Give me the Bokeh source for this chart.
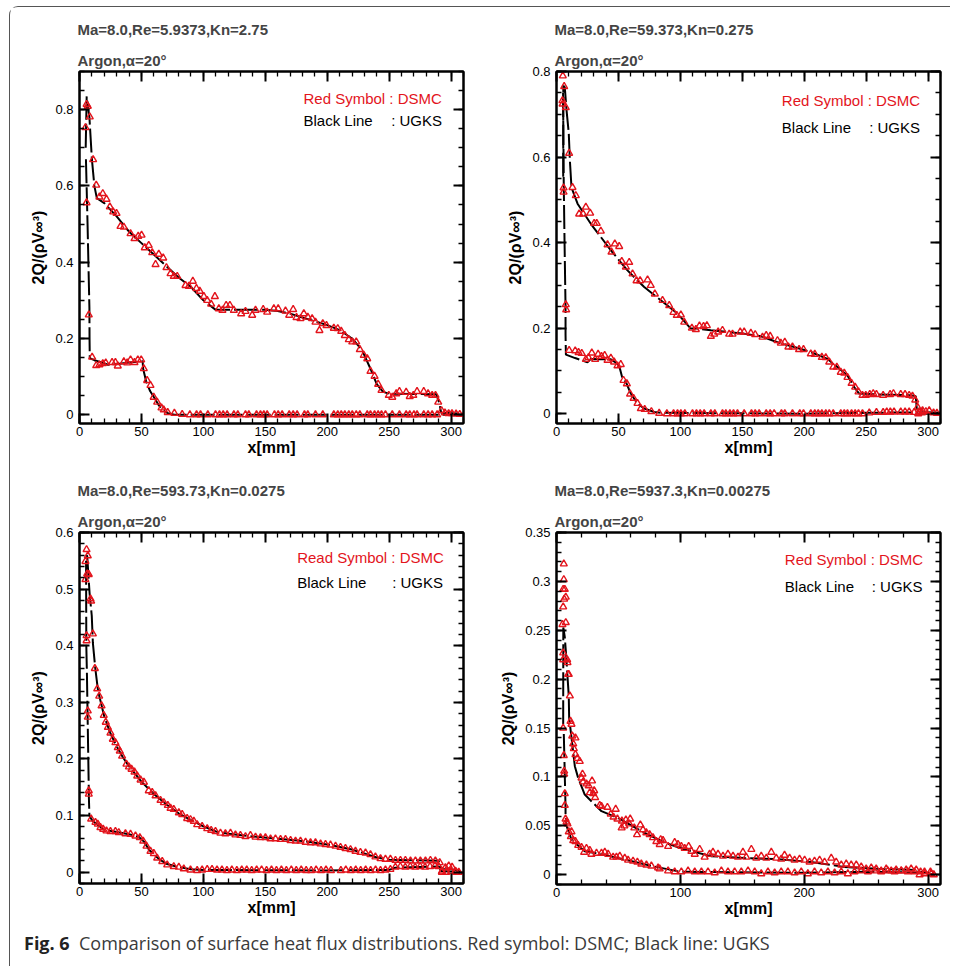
from bokeh.plotting import figure
from bokeh.models import (Range1d, LinearAxis, SingleIntervalTicker, CustomJSTickFormatter,
                          Title, Label, Div, InlineStyleSheet)
from bokeh.layouts import column, row
from bokeh.embed import file_html
from bokeh.resources import INLINE

FONT = "Liberation Sans"
RED = "#e3141c"

# ---------------- data (x in mm, y = 2Q/(rho V^3)) ----------------
titles = [
    ("Ma=8.0,Re=5.9373,Kn=2.75", "Red Symbol : DSMC"),
    ("Ma=8.0,Re=59.373,Kn=0.275", "Red Symbol : DSMC"),
    ("Ma=8.0,Re=593.73,Kn=0.0275", "Read Symbol : DSMC"),
    ("Ma=8.0,Re=5937.3,Kn=0.00275", "Red Symbol : DSMC"),
]
subtitle = "Argon,α=20°"

p1_dsmc_upper = [(4.8,0.753),(5.7,0.814),(6.7,0.809),(8.3,0.781),(11.0,0.669),(13.5,0.602),(16.1,0.571),(18.8,0.580),
    (21.8,0.565),(24.5,0.545),(27.2,0.532),(29.9,0.528),(33.1,0.494),(35.8,0.492),(41.2,0.475),(44.4,0.462),(47.4,0.468),
    (50.1,0.471),(52.7,0.438),(55.9,0.444),(58.7,0.425),(61.4,0.394),(64.0,0.421),(67.6,0.411),(70.2,0.386),(73.5,0.370),
    (76.1,0.363),(78.9,0.363),(85.6,0.339),(88.3,0.337),(91.5,0.350),(94.4,0.331),(97.1,0.324),(100.4,0.310),(103.1,0.300),
    (106.3,0.290),(109.3,0.310),(112.5,0.278),(115.4,0.274),(118.4,0.287),(121.4,0.287),(124.6,0.274),(130.5,0.265),
    (134.0,0.271),(139.4,0.261),(142.1,0.274),(148.3,0.276),(151.5,0.269),(156.9,0.278),(160.4,0.278),(166.3,0.272),
    (169.3,0.261),(172.5,0.276),(175.2,0.255),(178.4,0.252),(181.1,0.265),(184.3,0.256),(187.8,0.252),(190.5,0.243),
    (193.7,0.221),(196.4,0.239),(199.4,0.234),(205.3,0.227),(208.5,0.226),(211.3,0.219),(214.2,0.208),(217.4,0.197),
    (220.2,0.191),(223.4,0.191),(226.3,0.171),(229.5,0.156),(232.3,0.147),(234.9,0.114),(238.2,0.101),(241.1,0.080),
    (243.8,0.064),(249.7,0.051),(252.5,0.046),(255.7,0.055),(258.3,0.061),(263.7,0.059),(266.6,0.048),(269.5,0.051),
    (272.5,0.061),(277.9,0.061),(281.4,0.055),(284.7,0.051),(287.4,0.051),(289.6,0.033),(292.3,0.011),(295.0,0.005),
    (298.0,0.003),(300.7,0.003),(304.0,0.002),(307.0,0.001)]
p1_dsmc_lower = [(5.7,0.556),(7.5,0.262),(10.2,0.151),(13.5,0.129),(16.1,0.131),(18.8,0.134),(21.2,0.136),(26.3,0.137),
    (29.0,0.137),(30.9,0.128),(35.8,0.139),(38.5,0.136),(41.2,0.144),(44.4,0.137),(47.1,0.144),(49.8,0.144),(51.9,0.121),
    (54.6,0.090),(57.3,0.077),(59.9,0.046),(62.7,0.033),(66.2,0.018),(68.0,0.013),(71.2,0.006),(76.6,0.004),(82.9,0.001),
    (89.1,0.0),(94.5,0.0),(97.7,0.0),(103.6,0.0),(109.8,0.0),(113.0,0.0),(116.0,0.0),(119.2,0.0),(124.6,0.0),(127.8,0.0),
    (134.0,0.0),(136.7,0.0),(142.9,0.0),(146.1,0.0),(148.8,0.0),(151.5,0.0),(157.4,0.0),(160.4,0.0),(163.6,0.0),(169.3,0.0),
    (172.5,0.0),(175.7,0.0),(181.6,0.0),(184.3,0.0),(190.5,0.0),(196.4,0.0),(205.3,0.0),(208.5,0.0),(211.3,0.0),(214.2,0.0),
    (217.4,0.0),(220.2,0.0),(223.4,0.0),(226.3,0.0),(232.3,0.0),(234.9,0.0),(238.2,0.0),(241.1,0.0),(243.8,0.0),(247.0,0.0),
    (252.5,0.0),(258.3,0.0),(263.7,0.0),(266.6,0.0),(270.0,0.0),(272.5,0.0),(277.9,0.0),(281.4,0.0),(284.7,0.0),(288.7,0.0)]
p1_ugks_upper = [(5.0,0.70),(5.8,0.835),(8.0,0.78),(10.0,0.67),(12.0,0.60),(14.0,0.568),(20.0,0.555),(30.0,0.52),
    (40.0,0.48),(50.0,0.45),(60.0,0.42),(70.0,0.39),(80.0,0.36),(90.0,0.335),(100.0,0.30),(110.0,0.275),(120.0,0.275),
    (150.0,0.275),(160.0,0.272),(170.0,0.265),(180.0,0.255),(190.0,0.245),(200.0,0.235),(210.0,0.222),(220.0,0.20),
    (228.0,0.17),(235.0,0.12),(240.0,0.08),(245.0,0.06),(250.0,0.055),(288.0,0.054),(290.5,0.03),(292.0,0.005),(310.0,0.003)]
p1_ugks_lower = [(5.2,0.67),(6.5,0.50),(8.0,0.28),(8.1,0.20),(8.3,0.148),(12.0,0.143),(18.0,0.137),(23.0,0.131),
    (31.0,0.133),(40.0,0.137),(51.0,0.140),(51.3,0.122),(53.8,0.087),(57.0,0.062),(60.5,0.044),(64.0,0.025),(68.6,0.009),
    (72.0,0.003),(76.7,0.0),(310.0,0.0)]

p2_dsmc_upper = [(5.1,0.790),(4.8,0.732),(6.2,0.765),(7.5,0.716),(4.9,0.724),(10.2,0.609),(12.9,0.529),(15.6,0.510),
    (18.3,0.467),(21.5,0.467),(23.7,0.483),(27.2,0.469),(30.4,0.445),(32.5,0.445),(35.8,0.427),(41.2,0.395),(44.4,0.378),
    (47.1,0.397),(50.6,0.391),(52.7,0.356),(56.0,0.343),(58.7,0.354),(61.4,0.327),(64.6,0.311),(67.5,0.311),(73.5,0.313),
    (76.1,0.300),(79.4,0.280),(85.6,0.265),(91.0,0.253),(94.4,0.237),(97.1,0.230),(100.4,0.231),(103.1,0.214),(109.3,0.200),
    (112.5,0.197),(115.4,0.205),(118.7,0.204),(121.4,0.206),(124.6,0.181),(127.3,0.186),(130.5,0.191),(134.0,0.195),
    (139.4,0.186),(142.1,0.186),(148.3,0.191),(151.5,0.191),(156.9,0.188),(160.4,0.185),(166.3,0.179),(169.3,0.183),
    (172.5,0.181),(178.4,0.171),(181.1,0.165),(184.3,0.167),(187.2,0.156),(190.5,0.156),(195.8,0.150),(199.4,0.150),
    (205.3,0.140),(208.5,0.139),(214.2,0.132),(217.4,0.131),(220.2,0.121),(223.4,0.109),(226.3,0.109),(229.5,0.097),
    (232.3,0.095),(234.9,0.085),(238.2,0.071),(241.1,0.062),(243.8,0.051),(247.0,0.043),(249.7,0.043),(252.9,0.045),
    (255.7,0.047),(258.3,0.045),(263.7,0.043),(269.3,0.045),(272.0,0.047),(277.9,0.045),(281.4,0.045),(284.7,0.043),
    (287.4,0.041),(289.6,0.032),(291.5,0.015),(292.8,0.005),(295.5,0.007),(298.2,0.005),(300.9,0.007),(304.4,0.002),(307.1,0.001)]
p2_dsmc_lower = [(5.7,0.528),(5.7,0.518),(7.5,0.255),(7.8,0.243),(10.2,0.148),(15.1,0.147),(17.8,0.143),(20.4,0.141),
    (23.7,0.127),(25.8,0.131),(28.5,0.142),(31.2,0.127),(33.6,0.139),(36.3,0.134),(38.9,0.136),(41.2,0.125),(43.9,0.130),
    (46.5,0.121),(49.2,0.112),(51.9,0.115),(54.1,0.078),(56.8,0.070),(59.4,0.046),(62.2,0.036),(65.4,0.024),(68.1,0.012),
    (71.2,0.010),(76.6,0.005),(82.9,0.001),(89.1,0.0),(94.5,0.0),(97.7,0.0),(100.4,0.0),(103.6,0.0),(109.8,0.0),(113.0,0.0),
    (116.0,0.0),(119.2,0.0),(124.6,0.0),(127.8,0.0),(134.0,0.0),(136.7,0.0),(140.0,0.0),(142.9,0.0),(146.1,0.0),(151.5,0.0),
    (157.4,0.0),(160.4,0.0),(163.6,0.0),(169.3,0.0),(172.5,0.0),(175.7,0.0),(181.6,0.0),(184.3,0.0),(190.5,0.0),(196.4,0.0),
    (199.4,0.0),(205.3,0.0),(208.5,0.0),(211.3,0.0),(214.2,0.0),(217.4,0.0),(220.2,0.0),(223.4,0.0),(229.5,0.0),(232.3,0.0),
    (234.9,0.0),(238.2,0.0),(241.1,0.0),(243.8,0.0),(247.0,0.0),(252.5,0.002),(258.3,0.003),(263.7,0.003),(266.6,0.004),
    (269.5,0.004),(272.5,0.004),(277.9,0.004),(281.4,0.004),(284.7,0.004),(288.7,0.003),(292.0,0.0),(295.0,0.002)]
p2_ugks_upper = [(5.4,0.554),(5.5,0.767),(6.7,0.763),(8.1,0.71),(9.9,0.656),(10.8,0.592),(12.1,0.529),(17.0,0.491),
    (27.7,0.444),(43.9,0.382),(57.3,0.335),(70.8,0.296),(84.2,0.265),(97.7,0.234),(108.4,0.199),(113.8,0.199),(124.6,0.195),
    (138.0,0.191),(151.5,0.187),(165.0,0.181),(178.4,0.167),(191.9,0.156),(205.3,0.144),(218.8,0.128),(226.8,0.109),
    (234.9,0.089),(240.3,0.062),(244.3,0.047),(259.1,0.045),(286.0,0.043),(290.0,0.041),(291.0,0.006),(294.0,0.004),(310.0,0.002)]
p2_ugks_lower = [(5.3,0.75),(5.8,0.55),(6.5,0.40),(7.3,0.25),(7.3,0.185),(7.6,0.138),(15.0,0.130),(25.0,0.120),
    (27.7,0.128),(43.9,0.127),(49.2,0.117),(50.6,0.112),(53.0,0.085),(56.0,0.074),(60.0,0.047),(65.4,0.023),(70.8,0.012),
    (78.9,0.004),(85.0,0.002),(200.0,0.0),(250.0,0.002),(290.0,0.003),(292.0,0.0),(310.0,0.0)]

p3_dsmc_upper = [(5.7,0.570),(4.8,0.549),(6.7,0.559),(6.2,0.527),(4.8,0.517),(7.5,0.526),(8.9,0.483),(9.4,0.479),
    (10.8,0.421),(12.4,0.360),(14.3,0.324),(15.9,0.311),(17.8,0.294),(19.6,0.277),(21.2,0.265),(22.9,0.256),(25.0,0.246),
    (26.9,0.235),(29.0,0.229),(30.9,0.220),(32.5,0.214),(34.4,0.205),(37.9,0.191),(39.9,0.186),(42.0,0.182),(44.4,0.177),
    (46.6,0.170),(49.3,0.163),(52.0,0.159),(55.9,0.144),(58.7,0.141),(61.4,0.135),(65.4,0.127),(68.1,0.123),(71.3,0.118),
    (73.5,0.113),(76.1,0.111),(80.2,0.105),(82.9,0.102),(86.9,0.095),(89.6,0.093),(92.3,0.090),(95.0,0.084),(99.0,0.081),
    (103.1,0.077),(106.3,0.074),(109.8,0.072),(113.8,0.069),(117.8,0.068),(121.9,0.069),(125.9,0.066),(129.9,0.065),
    (134.0,0.063),(138.0,0.065),(142.1,0.062),(146.1,0.061),(150.1,0.061),(154.2,0.059),(158.2,0.059),(162.3,0.058),
    (166.3,0.058),(170.4,0.056),(174.4,0.055),(178.4,0.055),(182.5,0.053),(186.5,0.052),(190.5,0.052),(194.6,0.050),
    (198.6,0.049),(202.6,0.048),(206.7,0.046),(210.7,0.044),(214.7,0.042),(218.8,0.040),(222.8,0.037),(226.8,0.035),
    (230.9,0.034),(234.9,0.031),(238.9,0.027),(243.0,0.024),(247.0,0.023),(251.0,0.023),(255.1,0.021),(259.1,0.021),
    (263.1,0.021),(267.2,0.020),(271.2,0.020),(275.2,0.020),(279.3,0.020),(283.3,0.021),(287.3,0.020),(290.8,0.017),
    (292.7,0.002),(295.4,0.008),(298.1,0.011),(300.8,0.009),(303.5,0.002),(306.2,0.000)]
p3_dsmc_lower = [(5.7,0.418),(5.7,0.409),(6.7,0.285),(6.7,0.274),(7.5,0.144),(7.5,0.138),(9.4,0.094),(12.9,0.088),
    (14.8,0.085),(16.9,0.079),(19.1,0.076),(21.8,0.073),(25.0,0.072),(29.0,0.072),(31.7,0.070),(37.1,0.068),(41.2,0.067),
    (45.2,0.064),(48.7,0.061),(51.4,0.055),(54.1,0.046),(57.3,0.037),(60.0,0.033),(62.7,0.025),(66.8,0.019),(70.8,0.013),
    (76.1,0.010),(80.2,0.009),(84.2,0.006),(89.6,0.004),(95.0,0.003),(99.0,0.004),(103.1,0.005),(107.0,0.005),(111.0,0.004),
    (115.0,0.004),(119.0,0.003),(123.0,0.004),(127.0,0.003),(131.0,0.004),(135.0,0.004),(139.0,0.003),(143.0,0.004),
    (147.0,0.004),(151.0,0.003),(155.0,0.004),(159.0,0.003),(163.0,0.004),(167.0,0.003),(171.0,0.004),(175.0,0.003),
    (179.0,0.004),(183.0,0.003),(187.0,0.003),(191.0,0.004),(195.0,0.003),(199.0,0.004),(203.0,0.003),(211.0,0.003),
    (215.0,0.004),(219.0,0.003),(223.0,0.004),(227.0,0.003),(231.0,0.004),(235.0,0.003),(239.0,0.004),(243.0,0.003),
    (247.0,0.004),(251.0,0.005),(255.0,0.009),(259.0,0.010),(263.0,0.009),(267.0,0.010),(271.0,0.009),(275.0,0.010),
    (279.0,0.009),(283.0,0.010),(287.0,0.011),(290.0,0.010),(292.5,0.0),(296.0,0.0),(300.0,0.001),(304.0,0.0)]
p3_ugks_upper = [(5.4,0.56),(6.2,0.559),(8.1,0.494),(9.9,0.453),(10.8,0.405),(12.7,0.361),(15.0,0.320),(20.0,0.275),
    (25.0,0.245),(30.0,0.222),(35.0,0.203),(40.0,0.187),(50.0,0.160),(60.0,0.138),(70.0,0.120),(80.0,0.104),(90.0,0.092),
    (100.0,0.081),(110.0,0.072),(120.0,0.068),(140.0,0.063),(160.0,0.059),(180.0,0.055),(200.0,0.049),(220.0,0.040),
    (240.0,0.026),(250.0,0.022),(290.0,0.020),(292.0,0.005),(300.0,0.005),(308.0,0.001)]
p3_ugks_lower = [(5.3,0.55),(5.5,0.40),(6.0,0.35),(7.3,0.173),(7.6,0.13),(8.0,0.10),(10.0,0.092),(15.0,0.083),
    (20.0,0.075),(30.0,0.071),(40.0,0.067),(48.0,0.062),(52.0,0.054),(56.0,0.040),(60.0,0.031),(65.0,0.022),(70.0,0.015),
    (80.0,0.009),(90.0,0.005),(100.0,0.004),(200.0,0.003),(250.0,0.004),(255.0,0.008),(290.0,0.010),(292.0,0.002),(308.0,0.0)]

p4_dsmc_upper = [(5.9,0.318),(5.9,0.302),(5.4,0.292),(6.7,0.292),(6.2,0.282),(7.5,0.284),(5.4,0.274),(4.8,0.256),
    (7.5,0.258),(5.4,0.227),(5.4,0.220),(8.6,0.220),(8.9,0.217),(9.4,0.205),(9.9,0.205),(10.8,0.183),(11.3,0.157),
    (12.1,0.154),(12.7,0.142),(15.3,0.140),(13.5,0.134),(14.0,0.129),(15.3,0.123),(16.9,0.119),(18.8,0.116),(21.0,0.103),
    (20.2,0.099),(21.5,0.095),(24.2,0.093),(26.0,0.091),(28.7,0.096),(26.9,0.084),(29.6,0.083),(30.4,0.086),(31.2,0.079),
    (34.9,0.071),(36.3,0.070),(41.1,0.069),(43.8,0.062),(46.0,0.059),(47.8,0.067),(49.2,0.057),(52.6,0.048),(52.8,0.055),
    (54.8,0.050),(56.0,0.056),(58.8,0.052),(59.5,0.057),(62.8,0.048),(65.0,0.041),(67.7,0.051),(69.8,0.046),(72.5,0.043),
    (75.2,0.041),(77.9,0.038),(80.6,0.034),(83.3,0.031),(84.1,0.036),(86.0,0.035),(90.1,0.029),(95.4,0.033),(98.1,0.031),
    (100.8,0.029),(103.5,0.027),(106.7,0.029),(108.9,0.024),(111.6,0.021),(115.6,0.026),(119.6,0.018),(123.6,0.021),
    (126.3,0.023),(130.4,0.021),(134.4,0.019),(138.4,0.021),(142.5,0.019),(146.5,0.018),(150.5,0.023),(153.2,0.018),
    (157.3,0.026),(161.3,0.017),(165.3,0.019),(169.4,0.017),(173.4,0.023),(177.4,0.017),(181.4,0.016),(184.1,0.020),
    (188.2,0.017),(192.2,0.015),(196.2,0.016),(200.3,0.015),(204.3,0.013),(208.3,0.014),(212.4,0.015),(216.4,0.013),
    (221.8,0.017),(225.8,0.013),(229.9,0.010),(233.9,0.011),(237.9,0.010),(242.0,0.010),(246.0,0.008),(250.0,0.006),
    (254.1,0.007),(258.1,0.006),(262.1,0.004),(266.2,0.006),(270.2,0.004),(274.2,0.005),(278.3,0.004),(282.3,0.005),
    (286.3,0.006),(290.4,0.005),(293.9,0.003),(297.1,0.001),(301.9,0.003),(304.6,0.000)]
p4_dsmc_lower = [(5.4,0.150),(5.9,0.122),(6.2,0.106),(6.2,0.103),(6.7,0.083),(6.7,0.071),(7.3,0.057),(8.1,0.054),
    (8.9,0.052),(9.9,0.044),(12.1,0.044),(11.6,0.039),(13.5,0.035),(15.3,0.034),(17.5,0.030),(20.2,0.028),(22.3,0.023),
    (24.2,0.027),(26.9,0.025),(28.2,0.021),(32.3,0.022),(36.3,0.022),(39.0,0.023),(41.7,0.021),(45.7,0.018),(48.4,0.018),
    (51.1,0.019),(55.1,0.017),(57.8,0.015),(61.8,0.014),(65.3,0.013),(68.5,0.011),(72.6,0.010),(76.6,0.009),(82.0,0.007),
    (83.3,0.006),(90.1,0.004),(95.4,0.003),(100.8,0.003),(106.2,0.004),(111.6,0.003),(117.0,0.003),(122.3,0.003),
    (127.7,0.002),(133.1,0.004),(138.4,0.003),(143.8,0.003),(149.2,0.003),(154.6,0.004),(160.0,0.003),(165.3,0.001),
    (170.7,0.003),(176.1,0.002),(181.4,0.003),(186.8,0.003),(192.2,0.002),(197.6,0.003),(202.9,0.001),(208.3,0.003),
    (213.7,0.002),(219.1,0.003),(224.5,0.002),(229.9,0.003),(235.2,0.001),(240.6,0.003),(246.0,0.004),(251.4,0.003),
    (256.8,0.004),(262.1,0.003),(267.5,0.004),(272.9,0.003),(278.3,0.004),(283.6,0.003),(289.0,0.003),(293.1,0.0),
    (297.1,0.003),(302.5,0.001)]
p4_ugks_upper = [(5.4,0.154),(5.5,0.253),(6.7,0.243),(8.1,0.219),(8.6,0.208),(9.9,0.183),(10.2,0.161),(14.8,0.111),
    (17.5,0.099),(22.8,0.082),(36.3,0.065),(49.8,0.058),(70.8,0.043),(86.9,0.033),(103.2,0.026),(124.7,0.019),
    (151.6,0.017),(178.5,0.016),(205.4,0.013),(232.3,0.008),(259.2,0.006),(286.1,0.005),(305.0,0.0)]
p4_ugks_lower = [(5.9,0.144),(7.3,0.069),(7.3,0.062),(8.1,0.050),(12.1,0.036),(22.8,0.024),(36.3,0.021),(49.8,0.017),
    (76.6,0.009),(100.0,0.003),(200.0,0.002),(250.0,0.003),(300.0,0.002),(305.0,0.0)]

# axis settings per panel: (y_start, y_end, y_major, y_minor_count, x_major, x_minor_count)
axes_cfg = [(-0.023, 0.9, 0.2, 4, 50, 5),
            (-0.023, 0.8001, 0.2, 4, 50, 5),
            (-0.02, 0.6001, 0.1, 5, 50, 5),
            (-0.01, 0.3501, 0.05, 5, 100, 5)]
# legend placement in data units: (x_left, x_colon, y_line1, y_line2)
legend_pos = [(180.8, 251.6, 0.829, 0.772),
              (181.9, 252.4, 0.732, 0.670),
              (175.7, 252.4, 0.556, 0.512),
              (184.3, 254.5, 0.322, 0.295)]

fmt_code = "return parseFloat(tick.toFixed(4)).toString();"


def style_axis(ax, labels=True):
    ax.major_tick_in = 10
    ax.major_tick_out = 0
    ax.minor_tick_in = 5
    ax.minor_tick_out = 0
    ax.major_tick_line_width = 2
    ax.minor_tick_line_width = 1.3
    ax.axis_line_width = 2
    ax.axis_line_color = "black"
    ax.major_tick_line_color = "black"
    ax.minor_tick_line_color = "black"
    if labels:
        ax.major_label_text_font = FONT
        ax.major_label_text_font_size = "13px"
        ax.major_label_text_color = "black"
        ax.axis_label_text_font = FONT
        ax.axis_label_text_font_size = "16px"
        ax.axis_label_text_font_style = "bold"
        ax.axis_label_text_color = "black"
    else:
        ax.formatter = CustomJSTickFormatter(code="return '';")
        ax.major_label_text_font_size = "1px"
        ax.major_label_standoff = 0
        ax.axis_label = None


def make_panel(i, dsmc_u, dsmc_l, ugks_u, ugks_l, lb, rb, fh, bb):
    ys, ye, ymaj, ymin, xmaj, xmin = axes_cfg[i]
    p = figure(frame_width=384, frame_height=fh, min_border_left=lb, min_border_right=rb,
               min_border_top=64, min_border_bottom=bb,
               x_range=Range1d(0, 310), y_range=Range1d(ys, ye),
               output_backend="svg", toolbar_location=None, title=None)
    p.background_fill_color = "white"
    p.border_fill_color = "white"
    p.outline_line_color = "black"
    p.outline_line_width = 2
    p.xgrid.visible = False
    p.ygrid.visible = False

    p.xaxis.ticker = SingleIntervalTicker(interval=xmaj, num_minor_ticks=xmin)
    p.yaxis.ticker = SingleIntervalTicker(interval=ymaj, num_minor_ticks=ymin)
    p.xaxis.formatter = CustomJSTickFormatter(code=fmt_code)
    p.yaxis.formatter = CustomJSTickFormatter(code=fmt_code)
    p.xaxis.axis_label = "x[mm]"
    p.yaxis.axis_label = "2Q/(ρV∞³)"
    for ax in p.xaxis + p.yaxis:
        style_axis(ax)
    p.xaxis.major_label_standoff = 3
    p.xaxis.axis_label_standoff = 0
    p.yaxis.major_label_standoff = 6
    p.yaxis.axis_label_standoff = 5

    top = LinearAxis(ticker=SingleIntervalTicker(interval=xmaj, num_minor_ticks=xmin))
    style_axis(top, labels=False)
    p.add_layout(top, "above")
    right = LinearAxis(ticker=SingleIntervalTicker(interval=ymaj, num_minor_ticks=ymin))
    style_axis(right, labels=False)
    p.add_layout(right, "right")

    p.add_layout(Title(text=subtitle, align="left", text_font=FONT, text_font_size="15px",
                       text_font_style="bold", standoff=6, offset=-2), "above")
    p.add_layout(Title(text=titles[i][0], align="left", text_font=FONT, text_font_size="15px",
                       text_font_style="bold", standoff=17, offset=-2), "above")

    for pts in (ugks_u, ugks_l):
        p.line([a for a, b in pts], [b for a, b in pts], line_color="black", line_width=2,
               line_dash="24 4")
    for pts in (dsmc_u, dsmc_l):
        p.scatter([a for a, b in pts], [b for a, b in pts], marker="triangle", size=7,
                  fill_color=None, line_color=RED, line_width=1.4)

    xl, xc, y1, y2 = legend_pos[i]
    p.add_layout(Label(x=xl, y=y1, text=titles[i][1], text_font=FONT, text_font_size="15px",
                       text_color=RED, text_baseline="middle", text_align="left"))
    p.add_layout(Label(x=xl, y=y2, text="Black Line", text_font=FONT, text_font_size="15px",
                       text_color="black", text_baseline="middle", text_align="left"))
    p.add_layout(Label(x=xc, y=y2, text=": UGKS", text_font=FONT, text_font_size="15px",
                       text_color="black", text_baseline="middle", text_align="left"))
    return p


f1 = make_panel(0, p1_dsmc_upper, p1_dsmc_lower, p1_ugks_upper, p1_ugks_lower, 69, 24, 352, 45)
f2 = make_panel(1, p2_dsmc_upper, p2_dsmc_lower, p2_ugks_upper, p2_ugks_lower, 69, 4, 352, 45)
f3 = make_panel(2, p3_dsmc_upper, p3_dsmc_lower, p3_ugks_upper, p3_ugks_lower, 69, 24, 351, 43)
f4 = make_panel(3, p4_dsmc_upper, p4_dsmc_lower, p4_ugks_upper, p4_ugks_lower, 69, 4, 352, 42)

caption = Div(text="<b style='color:#222'>Fig. 6</b>&nbsp; Comparison of surface heat flux distributions. "
                   "Red symbol: DSMC; Black line: UGKS",
              width=930, height=32,
              styles={"font-family": "Open Sans", "font-size": "18px", "color": "#3a3a3a",
                      "padding-left": "9px", "padding-top": "0px", "line-height": "24px",
                      "white-space": "nowrap"})

frame_css = InlineStyleSheet(css=":host { border-left: 1.3px solid #555; border-top: 1.3px solid #555; "
                                 "border-top-left-radius: 9px; background: white; }")
layout = column(row(f1, f2), row(f3, f4), caption, margin=(6, 0, 0, 9), stylesheets=[frame_css])

open("out.html", "w").write(file_html(layout, INLINE))
